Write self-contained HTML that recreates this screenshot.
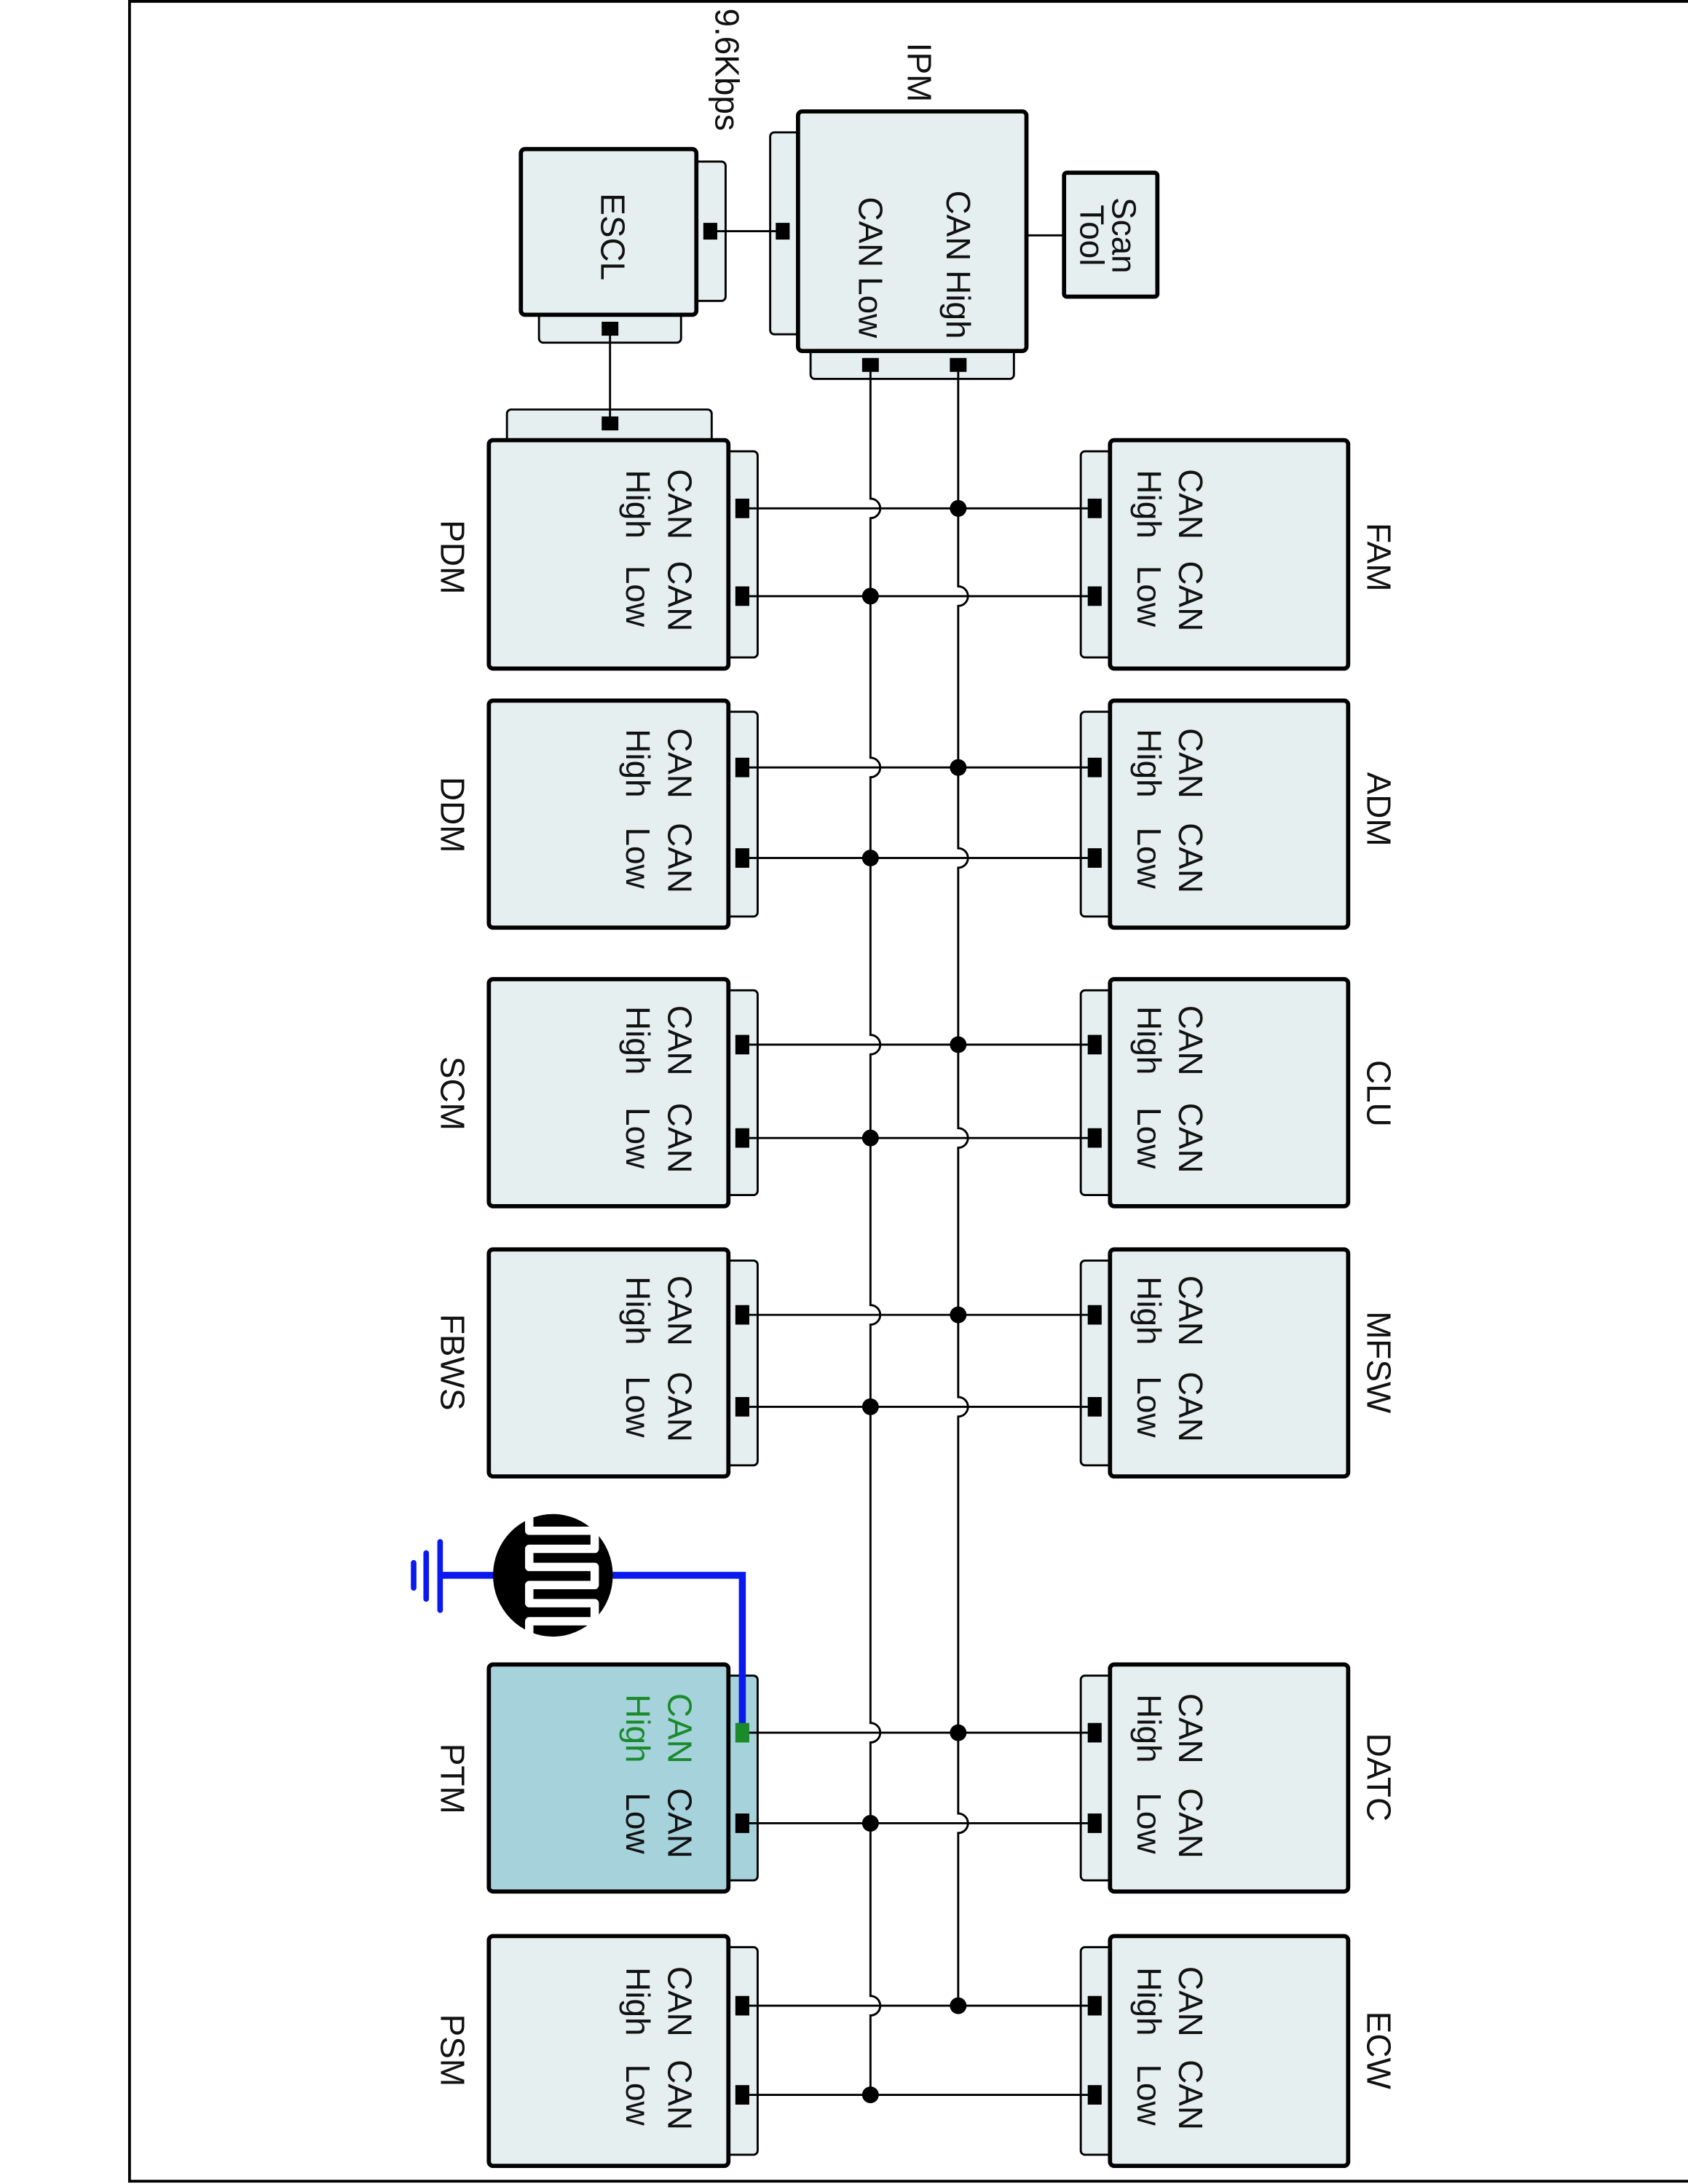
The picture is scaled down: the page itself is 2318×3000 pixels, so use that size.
<!DOCTYPE html>
<html><head><meta charset="utf-8"><style>html,body{margin:0;padding:0;background:#fff}svg{display:block}text{font-family:"Liberation Sans",Arial,sans-serif;font-size:24px;fill:#111}</style></head>
<body>
<svg width="2318" height="3000" viewBox="0 0 1212 1568" preserveAspectRatio="none" xmlns="http://www.w3.org/2000/svg">
<rect x="93" y="1" width="1130" height="1565" fill="none" stroke="#000" stroke-width="2"/>
<g stroke="#000" fill="#e6eff0">
<!-- ESCL -->
<rect x="490" y="116" width="31" height="100" rx="3" stroke-width="1.5"/>
<rect x="387" y="216" width="102" height="30" rx="3" stroke-width="1.5"/>
<rect x="374" y="107" width="126" height="119" rx="3" stroke-width="3"/>
<!-- IPM -->
<rect x="553" y="95" width="30" height="145" rx="3" stroke-width="1.5"/>
<rect x="582" y="240" width="146" height="32" rx="3" stroke-width="1.5"/>
<rect x="573" y="80" width="164" height="172" rx="3" stroke-width="3"/>
<!-- Scan Tool -->
<rect x="764" y="124" width="67" height="89" rx="2" stroke-width="3"/>
<!-- PDM top tab -->
<rect x="364" y="294" width="147" height="30" rx="3" stroke-width="1.5"/>
</g>
<g stroke="#000" stroke-width="1.5" fill="none">
<line x1="510" y1="166" x2="562" y2="166"/>
<line x1="438" y1="236" x2="438" y2="304"/>
<line x1="737" y1="169" x2="764" y2="169"/>
<path d="M625,262 V358 a7,7 0 0 1 0,14 V544 a7,7 0 0 1 0,14 V743 a7,7 0 0 1 0,14 V937 a7,7 0 0 1 0,14 V1237 a7,7 0 0 1 0,14 V1433 a7,7 0 0 1 0,14 V1504"/>
<path d="M688,262 V421 a7,7 0 0 1 0,14 V609 a7,7 0 0 1 0,14 V810 a7,7 0 0 1 0,14 V1003 a7,7 0 0 1 0,14 V1302 a7,7 0 0 1 0,14 V1440"/>
</g>
<g fill="#000">
<rect x="505" y="160" width="10" height="12"/>
<rect x="557" y="160" width="10" height="12"/>
<rect x="432" y="231" width="12" height="10"/>
<rect x="432" y="299" width="12" height="10"/>
<rect x="619" y="257" width="12" height="10"/>
<rect x="682" y="257" width="12" height="10"/>
</g>
<text transform="translate(522,50) rotate(90)" text-anchor="middle" dominant-baseline="central">9.6Kbps</text>
<text transform="translate(660,52) rotate(90)" text-anchor="middle" dominant-baseline="central">IPM</text>
<text transform="translate(440,170) rotate(90)" text-anchor="middle" dominant-baseline="central">ESCL</text>
<text transform="translate(688,190) rotate(90)" text-anchor="middle" dominant-baseline="central">CAN High</text>
<text transform="translate(625,192) rotate(90)" text-anchor="middle" dominant-baseline="central">CAN Low</text>
<text transform="translate(807,169) rotate(90)" text-anchor="middle" dominant-baseline="central">Scan</text>
<text transform="translate(784,169) rotate(90)" text-anchor="middle" dominant-baseline="central">Tool</text>

<!-- Row template: left module, right module, wires -->
<!-- Row 1 T316 B480 H365 L428 -->
<g stroke="#000" fill="#e6eff0">
<rect x="513" y="324" width="31" height="148" rx="3" stroke-width="1.5"/><rect x="351" y="316" width="172" height="164" rx="3" stroke-width="3"/>
<rect x="776" y="324" width="31" height="148" rx="3" stroke-width="1.5"/><rect x="797" y="316" width="171" height="164" rx="3" stroke-width="3"/>
<rect x="513" y="511" width="31" height="147" rx="3" stroke-width="1.5"/><rect x="351" y="503" width="172" height="163" rx="3" stroke-width="3"/>
<rect x="776" y="511" width="31" height="147" rx="3" stroke-width="1.5"/><rect x="797" y="503" width="171" height="163" rx="3" stroke-width="3"/>
<rect x="513" y="711" width="31" height="147" rx="3" stroke-width="1.5"/><rect x="351" y="703" width="172" height="163" rx="3" stroke-width="3"/>
<rect x="776" y="711" width="31" height="147" rx="3" stroke-width="1.5"/><rect x="797" y="703" width="171" height="163" rx="3" stroke-width="3"/>
<rect x="513" y="905" width="31" height="147" rx="3" stroke-width="1.5"/><rect x="351" y="897" width="172" height="163" rx="3" stroke-width="3"/>
<rect x="776" y="905" width="31" height="147" rx="3" stroke-width="1.5"/><rect x="797" y="897" width="171" height="163" rx="3" stroke-width="3"/>
<rect x="513" y="1203" width="31" height="147" rx="3" stroke-width="1.5" fill="#a6d2dc"/><rect x="351" y="1195" width="172" height="163" rx="3" stroke-width="3" fill="#a6d2dc"/>
<rect x="776" y="1203" width="31" height="147" rx="3" stroke-width="1.5"/><rect x="797" y="1195" width="171" height="163" rx="3" stroke-width="3"/>
<rect x="513" y="1398" width="31" height="149" rx="3" stroke-width="1.5"/><rect x="351" y="1390" width="172" height="165" rx="3" stroke-width="3"/>
<rect x="776" y="1398" width="31" height="149" rx="3" stroke-width="1.5"/><rect x="797" y="1390" width="171" height="165" rx="3" stroke-width="3"/>
</g>
<g stroke="#000" stroke-width="1.5">
<line x1="533" y1="365" x2="786" y2="365"/><line x1="533" y1="428" x2="786" y2="428"/>
<line x1="533" y1="551" x2="786" y2="551"/><line x1="533" y1="616" x2="786" y2="616"/>
<line x1="533" y1="750" x2="786" y2="750"/><line x1="533" y1="817" x2="786" y2="817"/>
<line x1="533" y1="944" x2="786" y2="944"/><line x1="533" y1="1010" x2="786" y2="1010"/>
<line x1="533" y1="1244" x2="786" y2="1244"/><line x1="533" y1="1309" x2="786" y2="1309"/>
<line x1="533" y1="1440" x2="786" y2="1440"/><line x1="533" y1="1504" x2="786" y2="1504"/>
</g>
<g fill="#000">
<circle cx="688" cy="365" r="6"/><circle cx="625" cy="428" r="6"/>
<circle cx="688" cy="551" r="6"/><circle cx="625" cy="616" r="6"/>
<circle cx="688" cy="750" r="6"/><circle cx="625" cy="817" r="6"/>
<circle cx="688" cy="944" r="6"/><circle cx="625" cy="1010" r="6"/>
<circle cx="688" cy="1244" r="6"/><circle cx="625" cy="1309" r="6"/>
<circle cx="688" cy="1440" r="6"/><circle cx="625" cy="1504" r="6"/>
<rect x="528" y="358" width="10" height="14"/><rect x="528" y="421" width="10" height="14"/>
<rect x="781" y="358" width="10" height="14"/><rect x="781" y="421" width="10" height="14"/>
<rect x="528" y="544" width="10" height="14"/><rect x="528" y="609" width="10" height="14"/>
<rect x="781" y="544" width="10" height="14"/><rect x="781" y="609" width="10" height="14"/>
<rect x="528" y="743" width="10" height="14"/><rect x="528" y="810" width="10" height="14"/>
<rect x="781" y="743" width="10" height="14"/><rect x="781" y="810" width="10" height="14"/>
<rect x="528" y="937" width="10" height="14"/><rect x="528" y="1003" width="10" height="14"/>
<rect x="781" y="937" width="10" height="14"/><rect x="781" y="1003" width="10" height="14"/>
<rect x="528" y="1302" width="10" height="14"/>
<rect x="781" y="1237" width="10" height="14"/><rect x="781" y="1302" width="10" height="14"/>
<rect x="528" y="1433" width="10" height="14"/><rect x="528" y="1497" width="10" height="14"/>
<rect x="781" y="1433" width="10" height="14"/><rect x="781" y="1497" width="10" height="14"/>
</g>

<!-- PTM blue wire and resistor -->
<path d="M533,1244 V1131 H440" stroke="#0a1aee" stroke-width="5" fill="none"/>
<path d="M355,1131 H315" stroke="#0a1aee" stroke-width="5" fill="none"/>
<g stroke="#0a1aee" stroke-width="4" stroke-linecap="round">
<line x1="316" y1="1107" x2="316" y2="1156"/>
<line x1="306" y1="1115" x2="306" y2="1148"/>
<line x1="297" y1="1122" x2="297" y2="1140"/>
</g>
<ellipse cx="397" cy="1131" rx="43" ry="44" fill="#000"/>
<path d="M380,1088 V1099 H427 V1112 H380 V1125 H427 V1138 H380 V1151 H427 V1164 H380 V1175" stroke="#fff" stroke-width="6" fill="none" stroke-linejoin="round"/>
<rect x="528" y="1237" width="10" height="14" fill="#1a8a2a"/>

<!-- labels -->
<g text-anchor="middle" dominant-baseline="central">
<text transform="translate(325,400) rotate(90)">PDM</text>
<text transform="translate(325,585) rotate(90)">DDM</text>
<text transform="translate(325,785) rotate(90)">SCM</text>
<text transform="translate(325,978) rotate(90)">FBWS</text>
<text transform="translate(325,1277) rotate(90)">PTM</text>
<text transform="translate(325,1472) rotate(90)">PSM</text>
<text transform="translate(990,400) rotate(90)">FAM</text>
<text transform="translate(990,581) rotate(90)">ADM</text>
<text transform="translate(990,785) rotate(90)">CLU</text>
<text transform="translate(990,978) rotate(90)">MFSW</text>
<text transform="translate(990,1276) rotate(90)">DATC</text>
<text transform="translate(990,1472) rotate(90)">ECW</text>

<text transform="translate(488,362) rotate(90)">CAN</text><text transform="translate(458,362) rotate(90)">High</text>
<text transform="translate(488,428) rotate(90)">CAN</text><text transform="translate(458,428) rotate(90)">Low</text>
<text transform="translate(855,362) rotate(90)">CAN</text><text transform="translate(825,362) rotate(90)">High</text>
<text transform="translate(855,428) rotate(90)">CAN</text><text transform="translate(825,428) rotate(90)">Low</text>

<text transform="translate(488,548) rotate(90)">CAN</text><text transform="translate(458,548) rotate(90)">High</text>
<text transform="translate(488,616) rotate(90)">CAN</text><text transform="translate(458,616) rotate(90)">Low</text>
<text transform="translate(855,548) rotate(90)">CAN</text><text transform="translate(825,548) rotate(90)">High</text>
<text transform="translate(855,616) rotate(90)">CAN</text><text transform="translate(825,616) rotate(90)">Low</text>

<text transform="translate(488,747) rotate(90)">CAN</text><text transform="translate(458,747) rotate(90)">High</text>
<text transform="translate(488,817) rotate(90)">CAN</text><text transform="translate(458,817) rotate(90)">Low</text>
<text transform="translate(855,747) rotate(90)">CAN</text><text transform="translate(825,747) rotate(90)">High</text>
<text transform="translate(855,817) rotate(90)">CAN</text><text transform="translate(825,817) rotate(90)">Low</text>

<text transform="translate(488,941) rotate(90)">CAN</text><text transform="translate(458,941) rotate(90)">High</text>
<text transform="translate(488,1010) rotate(90)">CAN</text><text transform="translate(458,1010) rotate(90)">Low</text>
<text transform="translate(855,941) rotate(90)">CAN</text><text transform="translate(825,941) rotate(90)">High</text>
<text transform="translate(855,1010) rotate(90)">CAN</text><text transform="translate(825,1010) rotate(90)">Low</text>

<text transform="translate(488,1241) rotate(90)" style="fill:#1a8a2a">CAN</text><text transform="translate(458,1241) rotate(90)" style="fill:#1a8a2a">High</text>
<text transform="translate(488,1309) rotate(90)">CAN</text><text transform="translate(458,1309) rotate(90)">Low</text>
<text transform="translate(855,1241) rotate(90)">CAN</text><text transform="translate(825,1241) rotate(90)">High</text>
<text transform="translate(855,1309) rotate(90)">CAN</text><text transform="translate(825,1309) rotate(90)">Low</text>

<text transform="translate(488,1437) rotate(90)">CAN</text><text transform="translate(458,1437) rotate(90)">High</text>
<text transform="translate(488,1504) rotate(90)">CAN</text><text transform="translate(458,1504) rotate(90)">Low</text>
<text transform="translate(855,1437) rotate(90)">CAN</text><text transform="translate(825,1437) rotate(90)">High</text>
<text transform="translate(855,1504) rotate(90)">CAN</text><text transform="translate(825,1504) rotate(90)">Low</text>
</g>
</svg>
</body></html>
